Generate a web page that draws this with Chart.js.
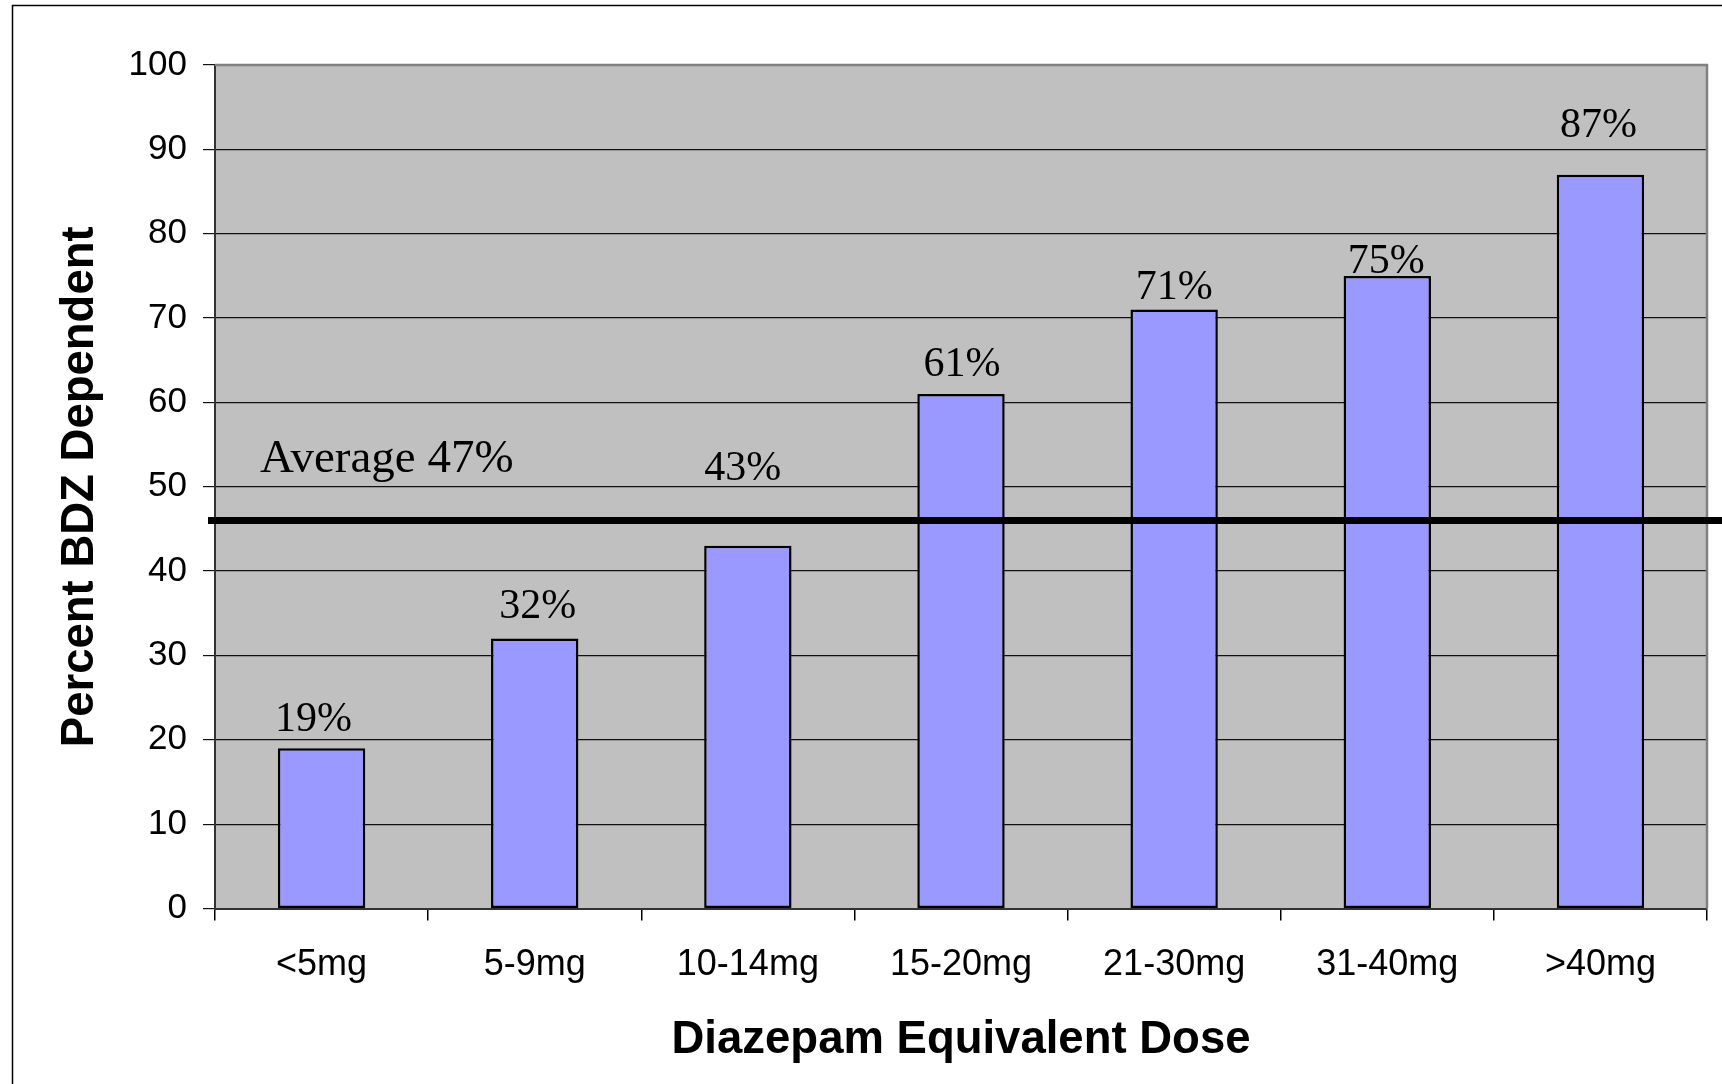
<!DOCTYPE html>
<html><head><meta charset="utf-8">
<script src="https://cdn.jsdelivr.net/npm/chart.js@4/dist/chart.umd.min.js"></script>
<style>html,body{margin:0;padding:0;background:#fff;overflow:hidden}canvas{display:block}</style>
</head><body>
<canvas id="c" width="1722" height="1084"></canvas>
<script>
// ---- data ----
const categories = ['<5mg', '5-9mg', '10-14mg', '15-20mg', '21-30mg', '31-40mg', '>40mg'];
const percentDependent = [19, 32, 43, 61, 71, 75, 87];
const valueLabels = ['19%', '32%', '43%', '61%', '71%', '75%', '87%'];
const averageLineValue = 46;
const averageLabel = 'Average 47%';
const xTitle = 'Diazepam Equivalent Dose';
const yTitle = 'Percent BDZ Dependent';
const yMin = 0, yMax = 100, yStep = 10;

// ---- label placement (styling) ----
const labelGapPx = [17, 21, 66, 18, 11, 3, 38];
const labelDxPx = [-8, 3, -5, 1, 0, -1, -2];

const decor = {
  id: 'decor',
  beforeDraw(chart) {
    const {ctx, chartArea: a} = chart;
    ctx.save();
    ctx.fillStyle = '#C0C0C0';
    ctx.fillRect(a.left, a.top, a.right - a.left, a.bottom - a.top);
    ctx.strokeStyle = '#000';
    ctx.lineWidth = 1.5;
    ctx.beginPath();
    ctx.moveTo(12.5, 1084); ctx.lineTo(12.5, 5.5); ctx.lineTo(1722, 5.5);
    ctx.stroke();
    ctx.restore();
  },
  afterDatasetsDraw(chart) {
    const {ctx, chartArea: a, scales} = chart;
    const y = scales.y;
    ctx.save();
    // plot frame top/right
    ctx.strokeStyle = '#808080';
    ctx.lineWidth = 2.5;
    ctx.beginPath();
    ctx.moveTo(a.left, a.top); ctx.lineTo(a.right, a.top); ctx.lineTo(a.right, a.bottom);
    ctx.stroke();
    // average line
    const ay = y.getPixelForValue(averageLineValue);
    ctx.strokeStyle = '#000';
    ctx.lineWidth = 7;
    ctx.beginPath();
    ctx.moveTo(a.left - 7, ay); ctx.lineTo(chart.width, ay);
    ctx.stroke();
    // average label
    ctx.fillStyle = '#000';
    ctx.font = '47px "Liberation Serif", "Times New Roman", serif';
    ctx.textAlign = 'left';
    ctx.textBaseline = 'alphabetic';
    ctx.fillText(averageLabel, a.left + 45, ay - 48);
    // value labels
    ctx.font = '42px "Liberation Serif", "Times New Roman", serif';
    ctx.textAlign = 'center';
    const meta = chart.getDatasetMeta(0);
    meta.data.forEach((bar, i) => {
      ctx.fillText(valueLabels[i], bar.x + labelDxPx[i], bar.y - labelGapPx[i]);
    });
    ctx.restore();
  }
};

new Chart(document.getElementById('c'), {
  type: 'bar',
  data: {
    labels: categories,
    datasets: [{
      data: percentDependent,
      backgroundColor: '#9999FF',
      borderColor: '#000',
      borderWidth: 2.5,
      borderSkipped: false,
      categoryPercentage: 1,
      barPercentage: 0.41
    }]
  },
  options: {
    responsive: false,
    animation: false,
    devicePixelRatio: 1,
    layout: {padding: {left: 0, top: 65, right: 15, bottom: 0}},
    plugins: {legend: {display: false}, tooltip: {enabled: false}},
    scales: {
      x: {
        afterFit(s) { s.height = 175.5; },
        grid: {display: true, drawOnChartArea: false, drawTicks: true, tickLength: 12, color: '#000', lineWidth: 1.5, offset: true},
        border: {display: true, color: '#333', width: 2},
        ticks: {color: '#000', padding: 23, font: {family: '"Liberation Sans", Arial, sans-serif', size: 36}},
        title: {display: true, text: xTitle, color: '#000', padding: {top: 0, bottom: 16},
                font: {family: '"Liberation Sans", Arial, sans-serif', size: 45.5, weight: 'bold'}}
      },
      y: {
        min: yMin, max: yMax,
        afterFit(s) { s.width = 215; },
        grid: {color: '#111', lineWidth: 1.2, tickLength: 12, drawTicks: true},
        border: {display: true, color: '#333', width: 2},
        ticks: {stepSize: yStep, color: '#000', padding: 16, font: {family: '"Liberation Sans", Arial, sans-serif', size: 35}},
        title: {display: true, text: yTitle, color: '#000', padding: {top: 53, bottom: 0},
                font: {family: '"Liberation Sans", Arial, sans-serif', size: 45.5, weight: 'bold'}}
      }
    }
  },
  plugins: [decor]
});
</script>
</body></html>
